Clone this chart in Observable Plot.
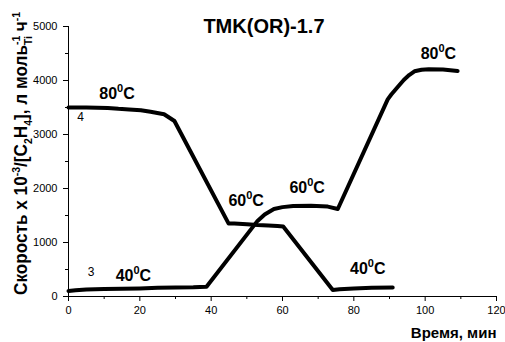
<!DOCTYPE html>
<html>
<head>
<meta charset="utf-8">
<script src="https://cdn.jsdelivr.net/npm/d3@7"></script>
<script src="https://cdn.jsdelivr.net/npm/@observablehq/plot@0.6"></script>
<style>
  html, body { margin: 0; padding: 0; background: white; }
</style>
</head>
<body>
<script>
// Curve 4 (starts at 80 °C)
const x4 = [0, 2, 5, 8, 11, 14, 17, 20.3, 23, 26.8, 29.7, 44.9, 46.5, 50, 53, 56, 58.6, 60.2, 74.1, 76, 80, 85, 90.9];
const y4 = [3500, 3500, 3500, 3495, 3490, 3475, 3465, 3450, 3420, 3375, 3250, 1350, 1350, 1340, 1325, 1315, 1305, 1295, 120, 135, 150, 160, 165];
// Curve 3 (starts at 40 °C)
const x3 = [0, 2, 5, 10, 15, 20, 25, 30, 35, 38.7, 53, 55, 57.6, 60, 63, 68, 72.7, 75.5, 89.5, 90.5, 92.3, 94, 95.5, 97, 99, 101, 105, 109.1];
const y3 = [100, 115, 130, 140, 145, 150, 160, 165, 170, 180, 1400, 1520, 1620, 1655, 1675, 1680, 1665, 1620, 3650, 3740, 3880, 4010, 4100, 4170, 4200, 4210, 4205, 4175];

// Temperature annotations
const tempX = [13.6, 103.7, 49.8, 66.9, 18.2, 83.9];
const tempY = [3754, 4490, 1768, 2018, 380, 513];
const tempT = ["80", "80", "60", "60", "40", "40"];

// Curve numbers
const numX = [3.4, 6.3];
const numY = [3320, 450];
const numT = ["4", "3"];

const yTicks = [0, 1000, 2000, 3000, 4000, 5000];
const yMinor = [500, 1500, 2500, 3500, 4500];
const xTicks = [0, 20, 40, 60, 80, 100, 120];
const xMinor = [10, 30, 50, 70, 90, 110];

const titleText = "TMK(OR)-1.7";
const xLabel = "Время, мин";

const s4 = x4.map((x, i) => ({x, y: y4[i]}));
const s3 = x3.map((x, i) => ({x, y: y3[i]}));
const temps = tempX.map((x, i) => ({x, y: tempY[i], t: tempT[i]}));
const nums = numX.map((x, i) => ({x, y: numY[i], t: numT[i]}));

const FONT = "'Liberation Sans', Arial, Helvetica, sans-serif";
const fmt = d => String(d);

const svg = Plot.plot({
  width: 505,
  height: 342,
  marginLeft: 68,
  marginRight: 9,
  marginTop: 26,
  marginBottom: 46,
  style: {fontFamily: FONT, fontSize: "11px", color: "black", background: "white", overflow: "visible"},
  x: {domain: [0, 120]},
  y: {domain: [0, 5000]},
  marks: [
    Plot.axisY({ticks: yTicks, tickSize: 5, tickPadding: 6, tickFormat: fmt, label: null, fontSize: 11, stroke: "black"}),
    Plot.axisY({ticks: yMinor, tickSize: 3, tickFormat: () => "", label: null, stroke: "black"}),
    Plot.axisX({ticks: xTicks, tickSize: 5, tickPadding: 5, tickFormat: fmt, label: null, fontSize: 11, stroke: "black"}),
    Plot.axisX({ticks: xMinor, tickSize: 3, tickFormat: () => "", label: null, stroke: "black"}),
    Plot.ruleX([0], {stroke: "black", strokeWidth: 1}),
    Plot.ruleY([0], {stroke: "black", strokeWidth: 1}),
    Plot.line(s4, {x: "x", y: "y", stroke: "black", strokeWidth: 4, strokeLinejoin: "round"}),
    Plot.line(s3, {x: "x", y: "y", stroke: "black", strokeWidth: 4, strokeLinejoin: "round"}),
    Plot.text(temps, {x: "x", y: "y", text: "t", fontWeight: "bold", fontSize: 16, fill: "black"}),
    Plot.text(nums, {x: "x", y: "y", text: "t", fontSize: 12, fill: "black"}),
    Plot.text([titleText], {x: () => 54.8, y: () => 4990, text: d => d, fontWeight: "bold", fontSize: 20, fill: "black"}),
    Plot.text([xLabel], {frameAnchor: "bottom-right", textAnchor: "end", dy: 41, text: d => d, fontWeight: "bold", fontSize: 15, fill: "black"})
  ]
});

document.body.appendChild(svg);

// superscript degree "0" and "C" on temperature labels
svg.querySelectorAll("text").forEach(t => {
  const g = t.closest('g[font-size="16"]');
  if (!g) return;
  if (!tempT.includes(t.textContent)) return;
  const sel = d3.select(t);
  sel.append("tspan").attr("font-size", 11).attr("dy", -7).text("0");
  sel.append("tspan").attr("dy", 7).text("C");
});

// Y axis label with super/subscripts
const yl = d3.select(svg).append("text")
  .attr("transform", "translate(27,153.5) rotate(-90)")
  .attr("text-anchor", "middle")
  .attr("font-family", FONT)
  .attr("font-weight", "bold")
  .attr("font-size", 18)
  .attr("fill", "black")
  .attr("textLength", 283)
  .attr("lengthAdjust", "spacingAndGlyphs");
const parts = [
  ["Скорость x 10", "base"], ["-3", "sup"], ["/[C", "base"], ["2", "sub"], ["H", "base"], ["4", "sub"],
  ["], л моль", "base"], ["-1", "sup"], ["Ti", "subback"], [" ч", "base"], ["-1", "sup"]
];
let shift = 0;
for (const [txt, kind] of parts) {
  let target = 0, size = 18, dx = 0;
  if (kind === "sup") { target = -7; size = 11; }
  else if (kind === "sub") { target = 5; size = 11; }
  else if (kind === "subback") { target = 5; size = 11; dx = -10; }
  const ts = yl.append("tspan").attr("font-size", size).attr("dy", target - shift).text(txt);
  if (dx) ts.attr("dx", dx);
  shift = target;
}
</script>
</body>
</html>
